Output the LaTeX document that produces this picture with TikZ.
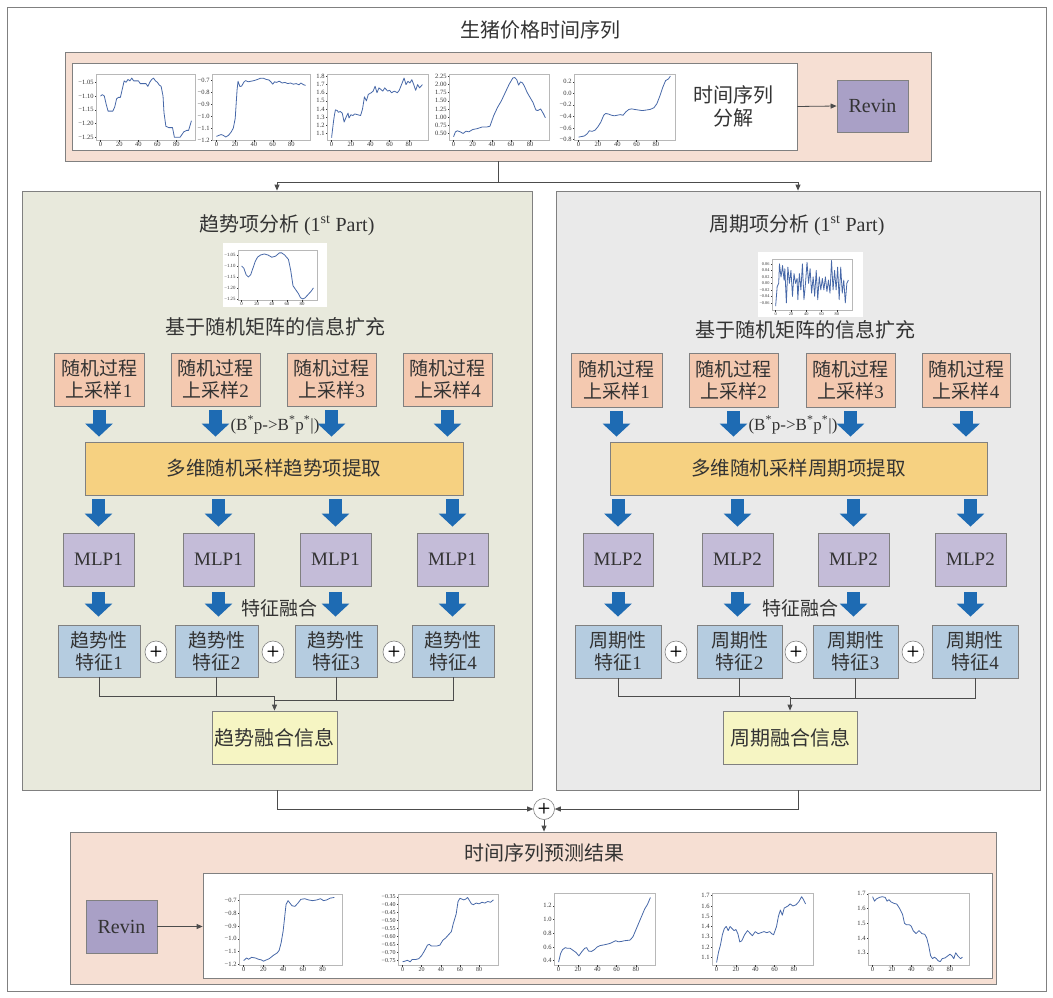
\documentclass[tikz,border=0pt]{standalone}
\usepackage{fontspec}
\setmainfont{Liberation Serif}
\newfontfamily\cjk{Noto Sans CJK SC}
\usetikzlibrary{arrows.meta,calc}
\definecolor{pinkbg}{HTML}{F6DFD3}
\definecolor{lpanelbg}{HTML}{E8E9DC}
\definecolor{rpanelbg}{HTML}{EAEAEA}
\definecolor{randbg}{HTML}{F4C9B0}
\definecolor{yellowbg}{HTML}{F6D181}
\definecolor{mlpbg}{HTML}{C4BCD8}
\definecolor{featbg}{HTML}{B5CCE0}
\definecolor{fusebg}{HTML}{F6F5C3}
\definecolor{revinbg}{HTML}{A9A0C6}
\definecolor{arrowblue}{HTML}{1E6BB3}
\definecolor{edgegray}{HTML}{808080}
\definecolor{txtgray}{HTML}{333333}
\definecolor{plotblue}{HTML}{4768A8}
\definecolor{framegray}{HTML}{B8B8B8}
\newcommand\minichart[9]{%
  \pgfmathsetmacro\csx{(#3-#1)/104.5}%
  \pgfmathsetmacro\csy{(#4-#2)/((#6)-(#5))}%
  \draw[plotframe] (#1,#2) rectangle (#3,#4);
  \begin{scope}[shift={(#1,#4)}, x={(\csx pt,0pt)}, y={(0pt,\csy pt)}, shift={(4.75,{-(#5)})}, font=\fontsize{#9}{#9}\selectfont]
    \draw[plotline] plot coordinates {#8};
    \foreach \t in {0,20,40,60,80} {\draw[tickmark] (\t,#5) -- ++(0pt,-1.5pt) node[below, inner sep=0.8pt, text=txtgray] {\t};}
    \foreach \v/\l in {#7} {\draw[tickmark] (-4.75,\v) -- ++(-1.5pt,0pt) node[left, inner sep=0.8pt, text=txtgray] {\l};}
  \end{scope}}
\begin{document}
\begin{tikzpicture}[x=1pt,y=-1pt,
  box/.style={draw=edgegray, line width=0.8pt, inner sep=0pt, text=txtgray, align=center, font=\cjk\fontsize{19}{22}\selectfont},
  panel/.style={draw=edgegray, line width=0.8pt, inner sep=0pt},
  randbox/.style={box, fill=randbg},
  yellowbox/.style={box, fill=yellowbg, font=\cjk\fontsize{19.5}{22}\selectfont},
  mlpbox/.style={box, fill=mlpbg, font=\rmfamily\fontsize{19}{22}\selectfont},
  featbox/.style={box, fill=featbg},
  fusebox/.style={box, fill=fusebg, font=\cjk\fontsize{20}{22}\selectfont},
  revinbox/.style={box, fill=revinbg, font=\rmfamily\fontsize{20}{22}\selectfont},
  plusc/.style={circle, draw=edgegray, line width=0.6pt, fill=white, minimum size=22pt, inner sep=0pt, font=\sffamily\bfseries\fontsize{15}{15}\selectfont, text=black},
  conn/.style={draw=black!70, line width=0.8pt},
  arr/.style={-{Triangle[length=6pt,width=5pt]}},
  blkarrow/.style={draw=arrowblue, line width=13pt, -{Triangle[width=27pt,length=13pt]}},
  lbl/.style={text=txtgray, inner sep=0pt, font=\cjk\fontsize{20}{23}\selectfont, align=center},
  plotframe/.style={draw=framegray, line width=0.6pt},
  plotline/.style={draw=plotblue, line width=0.8pt, line join=round},
  tickmark/.style={draw=txtgray, line width=0.4pt}
]
\useasboundingbox (0,0) rectangle (1053,998);
\fill[white] (0,0) rectangle (1053,998);
\draw[edgegray, line width=0.8pt] (7,7) rectangle (1046,991);

% ---------- top ----------
\node[lbl] (title) at (540,30) {生猪价格时间序列};
\node[panel, fill=pinkbg, minimum width=866pt, minimum height=109pt] (toppink) at (498,106.5) {};
\node[panel, fill=white, minimum width=725pt, minimum height=87pt] (topwhite) at (434.5,106.5) {};
\node[lbl] (decomp) at (733,106.5) {时间序列\\分解};
\node[revinbox, minimum width=71pt, minimum height=52pt] (revin1) at (872.5,106) {Revin};
\draw[conn,arr] (topwhite.east) -- (revin1.west);

\minichart{96}{74}{195}{140}{-1.26}{-1.02}{-1.05/−1.05,-1.10/−1.10,-1.15/−1.15,-1.20/−1.20,-1.25/−1.25}{(0,-1.10) (2,-1.095) (4,-1.10) (6,-1.13) (8,-1.155) (13,-1.155) (15,-1.14) (17,-1.11) (19,-1.105) (21,-1.105) (23,-1.075) (25,-1.045) (27,-1.05) (29,-1.04) (31,-1.045) (33,-1.035) (35,-1.045) (40,-1.045) (42,-1.055) (48,-1.055) (50,-1.065) (52,-1.05) (54,-1.04) (56,-1.035) (58,-1.045) (60,-1.05) (62,-1.06) (64,-1.065) (66,-1.10) (67,-1.16) (69,-1.21) (72,-1.215) (76,-1.215) (78,-1.25) (84,-1.25) (86,-1.24) (88,-1.23) (91,-1.225) (93,-1.225) (96,-1.19)}{6.5}
\minichart{212}{74}{310}{140}{-1.2}{-0.65}{-0.7/−0.7,-0.8/−0.8,-0.9/−0.9,-1.0/−1.0,-1.1/−1.1,-1.2/−1.2}{(0,-1.17) (3,-1.16) (5,-1.155) (7,-1.16) (10,-1.175) (13,-1.16) (16,-1.13) (18,-1.10) (20,-1.02) (21,-0.9) (22,-0.78) (23,-0.71) (25,-0.755) (27,-0.75) (29,-0.72) (31,-0.705) (34,-0.715) (37,-0.71) (40,-0.705) (42,-0.70) (44,-0.695) (47,-0.685) (50,-0.685) (53,-0.695) (56,-0.70) (58,-0.715) (60,-0.735) (62,-0.715) (64,-0.72) (67,-0.71) (70,-0.725) (73,-0.72) (76,-0.73) (79,-0.725) (82,-0.735) (85,-0.73) (88,-0.74) (90,-0.725) (93,-0.74) (95,-0.745)}{6.5}
\minichart{327}{74}{428}{140}{1.02}{1.83}{1.1/1.1,1.2/1.2,1.3/1.3,1.4/1.4,1.5/1.5,1.6/1.6,1.7/1.7,1.8/1.8}{(0,1.05) (2,1.25) (3,1.33) (4,1.39) (6,1.38) (7,1.36) (9,1.37) (11,1.35) (13,1.24) (15,1.30) (17,1.35) (18,1.29) (20,1.33) (22,1.32) (24,1.34) (27,1.33) (30,1.32) (32,1.40) (34,1.55) (36,1.50) (38,1.58) (41,1.60) (43,1.62) (45,1.68) (47,1.60) (49,1.66) (51,1.64) (53,1.62) (55,1.66) (58,1.62) (60,1.63) (62,1.60) (65,1.62) (68,1.60) (70,1.63) (73,1.72) (75,1.78) (77,1.70) (79,1.74) (81,1.72) (83,1.76) (85,1.70) (87,1.63) (89,1.70) (91,1.66) (94,1.70)}{6.5}
\minichart{449}{74}{549}{140}{0.30}{2.32}{0.50/0.50,0.75/0.75,1.00/1.00,1.25/1.25,1.50/1.50,1.75/1.75,2.00/2.00,2.25/2.25}{(0,0.40) (2,0.55) (4,0.58) (7,0.55) (10,0.50) (13,0.57) (16,0.55) (20,0.62) (25,0.65) (30,0.70) (35,0.70) (38,0.72) (42,1.05) (46,1.30) (50,1.50) (54,1.75) (58,2.0) (62,2.20) (64,2.21) (66,2.15) (68,1.98) (70,2.08) (72,2.05) (74,1.95) (77,1.75) (80,1.60) (83,1.45) (86,1.22) (88,1.20) (91,1.25) (94,1.10) (96,0.98)}{6.5}
\minichart{574}{74}{675}{140}{-0.81}{0.335}{0.2/0.2,0.0/0.0,-0.2/−0.2,-0.4/−0.4,-0.6/−0.6,-0.8/−0.8}{(0,-0.76) (3,-0.75) (6,-0.74) (9,-0.70) (11,-0.65) (14,-0.66) (17,-0.64) (20,-0.58) (23,-0.50) (26,-0.38) (28,-0.35) (31,-0.36) (34,-0.38) (37,-0.39) (40,-0.38) (43,-0.37) (46,-0.38) (49,-0.32) (52,-0.28) (55,-0.27) (58,-0.28) (62,-0.29) (66,-0.30) (70,-0.29) (74,-0.28) (78,-0.25) (81,-0.18) (84,-0.05) (87,0.10) (90,0.22) (93,0.25) (95,0.30)}{6.5}

% ---------- panels ----------
\node[panel, fill=lpanelbg, minimum width=510pt, minimum height=599pt] (lpanel) at (277,490.5) {};
\node[panel, fill=rpanelbg, minimum width=484pt, minimum height=599pt] (rpanel) at (798,490.5) {};

\coordinate (tj) at ($(toppink.south)+(0,21)$);
\draw[conn] (toppink.south) -- (tj);
\draw[conn,arr] (tj) -| (lpanel.north);
\draw[conn,arr] (tj) -| (rpanel.north);

% ---------- left panel ----------
\node[lbl] (ltitle) at (287,225) {趋势项分析 {\rmfamily (1\textsuperscript{st} Part)}};
\fill[white] (223,243) rectangle (327,307);
\minichart{238}{250}{317}{300}{-1.255}{-1.027}{-1.05/−1.05,-1.10/−1.10,-1.15/−1.15,-1.20/−1.20,-1.25/−1.25}{(0,-1.10) (3,-1.11) (6,-1.14) (9,-1.15) (12,-1.14) (15,-1.11) (18,-1.08) (21,-1.06) (25,-1.05) (30,-1.045) (35,-1.05) (40,-1.06) (45,-1.055) (50,-1.04) (53,-1.04) (57,-1.05) (62,-1.07) (65,-1.12) (68,-1.19) (72,-1.21) (75,-1.225) (78,-1.245) (81,-1.25) (84,-1.245) (88,-1.23) (92,-1.215) (95,-1.20)}{4.8}
\node[lbl] (linfo) at (275,327) {基于随机矩阵的信息扩充};

\node[randbox, minimum width=90pt, minimum height=53pt] (lr1) at (99,379.5) {随机过程\\上采样{\rmfamily 1}};
\node[randbox, minimum width=89pt, minimum height=53pt] (lr2) at (215.5,379.5) {随机过程\\上采样{\rmfamily 2}};
\node[randbox, minimum width=89pt, minimum height=53pt] (lr3) at (331.5,379.5) {随机过程\\上采样{\rmfamily 3}};
\node[randbox, minimum width=89pt, minimum height=53pt] (lr4) at (447.5,379.5) {随机过程\\上采样{\rmfamily 4}};
\node[yellowbox, minimum width=378pt, minimum height=53pt] (ly) at (274,468.5) {多维随机采样趋势项提取};
\node[mlpbox, minimum width=71pt, minimum height=53pt] (lm1) at (98.5,559.5) {MLP1};
\node[mlpbox, minimum width=71pt, minimum height=53pt] (lm2) at (218.5,559.5) {MLP1};
\node[mlpbox, minimum width=71pt, minimum height=53pt] (lm3) at (335.5,559.5) {MLP1};
\node[mlpbox, minimum width=71pt, minimum height=53pt] (lm4) at (452.5,559.5) {MLP1};
\node[featbox, minimum width=82pt, minimum height=52pt] (lf1) at (99,651) {趋势性\\特征{\rmfamily 1}};
\node[featbox, minimum width=83pt, minimum height=52pt] (lf2) at (216.5,651) {趋势性\\特征{\rmfamily 2}};
\node[featbox, minimum width=82pt, minimum height=52pt] (lf3) at (336,651) {趋势性\\特征{\rmfamily 3}};
\node[featbox, minimum width=82pt, minimum height=52pt] (lf4) at (453,651) {趋势性\\特征{\rmfamily 4}};
\node[plusc] (lp1) at (156,652) {+};
\node[plusc] (lp2) at (273,652) {+};
\node[plusc] (lp3) at (394,652) {+};
\node[fusebox, minimum width=125pt, minimum height=53pt] (lfu) at (274.5,737.5) {趋势融合信息};
\node[text=txtgray, inner sep=0pt, font=\rmfamily\fontsize{17}{17}\selectfont] (lbp) at (275,425) {(B\textsuperscript{*}p->B\textsuperscript{*}p\textsuperscript{*}|)};
\node[lbl, font=\cjk\fontsize{19}{22}\selectfont] (lfz) at (279,608) {特征融合};

\foreach \i in {1,2,3,4} {
  \draw[blkarrow, shorten <=4pt, shorten >=5pt] (lr\i.south) -- (lr\i.south |- ly.north);
  \draw[blkarrow, shorten <=4pt, shorten >=6pt] (lm\i.north |- ly.south) -- (lm\i.north);
  \draw[blkarrow, shorten <=6pt, shorten >=8pt] (lm\i.south) -- (lm\i.south |- lf\i.north);
}
\coordinate (lja) at ($(lfu.north)+(0,-14)$);
\coordinate (ljb) at ($(lfu.north)+(0,-10)$);
\draw[conn] (lf1.south) |- (lja);
\draw[conn] (lf2.south) -- (lf2.south |- lja);
\draw[conn] (lf4.south) |- (ljb);
\draw[conn] (lf3.south) -- (lf3.south |- ljb);
\draw[conn,arr] (lja) -- (lfu.north);

% ---------- right panel ----------
\node[lbl] (rtitle) at (797,225) {周期项分析 {\rmfamily (1\textsuperscript{st} Part)}};
\fill[white] (758,252) rectangle (863,317);
\minichart{772}{259}{852}{310}{-0.082}{0.075}{0.06/0.06,0.04/0.04,0.02/0.02,0.00/0.00,-0.02/−0.02,-0.04/−0.04,-0.06/−0.06}{(0,-0.07) (2,-0.01) (4,0.0) (5,0.06) (7,0.02) (8,0.035) (9,0.055) (11,0.01) (12,0.045) (14,-0.06) (16,0.05) (18,0.0) (20,0.04) (22,-0.04) (24,0.03) (26,0.0) (28,0.015) (29,-0.05) (31,0.03) (33,-0.02) (35,0.06) (37,-0.05) (39,0.0) (41,0.065) (43,0.0) (45,0.045) (47,-0.03) (49,0.02) (51,-0.04) (53,0.04) (55,-0.05) (57,0.02) (59,-0.02) (61,0.015) (63,-0.02) (65,0.02) (67,-0.025) (69,0.01) (71,-0.03) (73,0.07) (75,-0.02) (77,0.04) (79,-0.02) (81,0.05) (83,-0.05) (85,0.05) (87,-0.03) (89,0.01) (91,-0.06) (93,0.0) (95,0.01)}{4.3}
\node[lbl] (rinfo) at (805,330) {基于随机矩阵的信息扩充};

\node[randbox, minimum width=91pt, minimum height=54pt] (rr1) at (616.5,380) {随机过程\\上采样{\rmfamily 1}};
\node[randbox, minimum width=89pt, minimum height=54pt] (rr2) at (733.5,380) {随机过程\\上采样{\rmfamily 2}};
\node[randbox, minimum width=89pt, minimum height=54pt] (rr3) at (850.5,380) {随机过程\\上采样{\rmfamily 3}};
\node[randbox, minimum width=88pt, minimum height=54pt] (rr4) at (966,380) {随机过程\\上采样{\rmfamily 4}};
\node[yellowbox, minimum width=377pt, minimum height=53pt] (ry) at (798.5,468.5) {多维随机采样周期项提取};
\node[mlpbox, minimum width=70pt, minimum height=53pt] (rm1) at (618,559.5) {MLP2};
\node[mlpbox, minimum width=71pt, minimum height=53pt] (rm2) at (737.5,559.5) {MLP2};
\node[mlpbox, minimum width=71pt, minimum height=53pt] (rm3) at (853.5,559.5) {MLP2};
\node[mlpbox, minimum width=71pt, minimum height=53pt] (rm4) at (970.5,559.5) {MLP2};
\node[featbox, minimum width=86pt, minimum height=53pt] (rf1) at (618,651.5) {周期性\\特征{\rmfamily 1}};
\node[featbox, minimum width=85pt, minimum height=53pt] (rf2) at (739.5,651.5) {周期性\\特征{\rmfamily 2}};
\node[featbox, minimum width=85pt, minimum height=53pt] (rf3) at (855.5,651.5) {周期性\\特征{\rmfamily 3}};
\node[featbox, minimum width=86pt, minimum height=53pt] (rf4) at (975,651.5) {周期性\\特征{\rmfamily 4}};
\node[plusc] (rp1) at (676,652) {+};
\node[plusc] (rp2) at (796,652) {+};
\node[plusc] (rp3) at (913,652) {+};
\node[fusebox, minimum width=134pt, minimum height=53pt] (rfu) at (790,737.5) {周期融合信息};
\node[text=txtgray, inner sep=0pt, font=\rmfamily\fontsize{17}{17}\selectfont] (rbp) at (793,425) {(B\textsuperscript{*}p->B\textsuperscript{*}p\textsuperscript{*}|)};
\node[lbl, font=\cjk\fontsize{19}{22}\selectfont] (rfz) at (800,608) {特征融合};

\foreach \i in {1,2,3,4} {
  \draw[blkarrow, shorten <=4pt, shorten >=5pt] (rr\i.south) -- (rr\i.south |- ry.north);
  \draw[blkarrow, shorten <=4pt, shorten >=6pt] (rm\i.north |- ry.south) -- (rm\i.north);
  \draw[blkarrow, shorten <=6pt, shorten >=8pt] (rm\i.south) -- (rm\i.south |- rf\i.north);
}
\coordinate (rja) at ($(rfu.north)+(0,-14)$);
\coordinate (rjb) at ($(rfu.north)+(0,-12)$);
\draw[conn] (rf1.south) |- (rja);
\draw[conn] (rf2.south) -- (rf2.south |- rja);
\draw[conn] (rf4.south) |- (rjb);
\draw[conn] (rf3.south) -- (rf3.south |- rjb);
\draw[conn,arr] (rja) -- (rfu.north);

% ---------- bottom ----------
\node[circle, draw=edgegray, line width=0.6pt, fill=white, minimum size=21pt, inner sep=0pt, font=\sffamily\bfseries\fontsize{15}{15}\selectfont] (sum) at (544,809) {+};
\node[panel, fill=pinkbg, minimum width=926pt, minimum height=152pt] (botpink) at (533,908) {};
\node[lbl] (bottitle) at (544,853) {时间序列预测结果};
\node[panel, fill=white, minimum width=789pt, minimum height=105pt] (botwhite) at (597.5,925.5) {};
\node[revinbox, minimum width=71pt, minimum height=53pt] (revin2) at (121.5,926.5) {Revin};
\draw[conn,arr] (revin2.east) -- (revin2.east -| botwhite.west);
\draw[conn,arr] (lpanel.south) |- (sum.west);
\draw[conn,arr] (rpanel.south) |- (sum.east);
\draw[conn,arr] (sum.south) -- (sum.south |- botpink.north);

\minichart{239}{894}{342}{965}{-1.205}{-0.648}{-0.7/−0.7,-0.8/−0.8,-0.9/−0.9,-1.0/−1.0,-1.1/−1.1,-1.2/−1.2}{(0,-1.17) (3,-1.15) (5,-1.16) (8,-1.145) (12,-1.15) (15,-1.16) (18,-1.165) (20,-1.175) (23,-1.165) (26,-1.155) (30,-1.13) (34,-1.11) (36,-1.09) (38,-1.03) (40,-0.94) (42,-0.80) (43,-0.73) (45,-0.70) (47,-0.72) (49,-0.74) (52,-0.745) (55,-0.72) (58,-0.69) (62,-0.685) (66,-0.695) (70,-0.70) (74,-0.695) (78,-0.685) (81,-0.70) (84,-0.695) (88,-0.68) (92,-0.675)}{6.5}
\minichart{398}{894}{498}{965}{-0.78}{-0.333}{-0.35/−0.35,-0.40/−0.40,-0.45/−0.45,-0.50/−0.50,-0.55/−0.55,-0.60/−0.60,-0.65/−0.65,-0.70/−0.70,-0.75/−0.75}{(0,-0.76) (3,-0.755) (5,-0.75) (8,-0.76) (10,-0.745) (14,-0.745) (17,-0.74) (20,-0.72) (23,-0.69) (26,-0.655) (28,-0.65) (30,-0.66) (33,-0.66) (36,-0.66) (39,-0.655) (42,-0.625) (45,-0.61) (48,-0.59) (51,-0.57) (53,-0.52) (56,-0.46) (58,-0.38) (60,-0.36) (62,-0.365) (64,-0.37) (66,-0.365) (68,-0.355) (70,-0.375) (72,-0.395) (74,-0.40) (77,-0.39) (80,-0.395) (83,-0.385) (86,-0.39) (89,-0.38) (92,-0.385) (95,-0.37)}{6}
\minichart{554}{893}{655}{965}{0.337}{1.385}{0.4/0.4,0.6/0.6,0.8/0.8,1.0/1.0,1.2/1.2}{(0,0.38) (2,0.50) (4,0.56) (7,0.59) (9,0.58) (12,0.58) (15,0.55) (18,0.52) (21,0.47) (24,0.53) (27,0.58) (29,0.59) (31,0.54) (34,0.535) (37,0.56) (40,0.60) (43,0.62) (47,0.63) (50,0.64) (53,0.65) (56,0.67) (59,0.69) (62,0.675) (65,0.68) (68,0.69) (71,0.695) (74,0.70) (77,0.75) (80,0.85) (83,0.95) (86,1.05) (89,1.15) (92,1.22) (95,1.32)}{6.5}
\minichart{712}{893}{813}{965}{1.025}{1.726}{1.1/1.1,1.2/1.2,1.3/1.3,1.4/1.4,1.5/1.5,1.6/1.6,1.7/1.7}{(0,1.05) (2,1.15) (4,1.22) (6,1.32) (8,1.38) (10,1.40) (12,1.36) (14,1.40) (16,1.38) (18,1.36) (20,1.37) (22,1.33) (24,1.25) (26,1.26) (29,1.32) (32,1.36) (35,1.33) (37,1.31) (40,1.35) (43,1.33) (46,1.34) (49,1.35) (52,1.34) (55,1.35) (57,1.33) (59,1.32) (62,1.40) (64,1.50) (66,1.56) (68,1.51) (70,1.58) (72,1.59) (74,1.60) (76,1.62) (79,1.60) (82,1.61) (85,1.64) (88,1.69) (90,1.66) (92,1.62)}{6.5}
\minichart{868}{893}{969}{965}{1.217}{1.705}{1.3/1.3,1.4/1.4,1.5/1.5,1.6/1.6,1.7/1.7}{(0,1.68) (2,1.65) (4,1.665) (7,1.675) (10,1.68) (13,1.675) (15,1.65) (17,1.66) (19,1.645) (22,1.635) (25,1.63) (28,1.60) (31,1.56) (33,1.50) (35,1.49) (38,1.49) (40,1.48) (42,1.45) (45,1.43) (48,1.45) (51,1.43) (54,1.425) (56,1.40) (58,1.35) (60,1.28) (62,1.26) (64,1.27) (66,1.26) (68,1.245) (70,1.24) (72,1.26) (75,1.265) (77,1.275) (80,1.29) (82,1.28) (84,1.26) (86,1.30) (88,1.28) (91,1.26) (93,1.27)}{6.5}
\end{tikzpicture}
\end{document}
